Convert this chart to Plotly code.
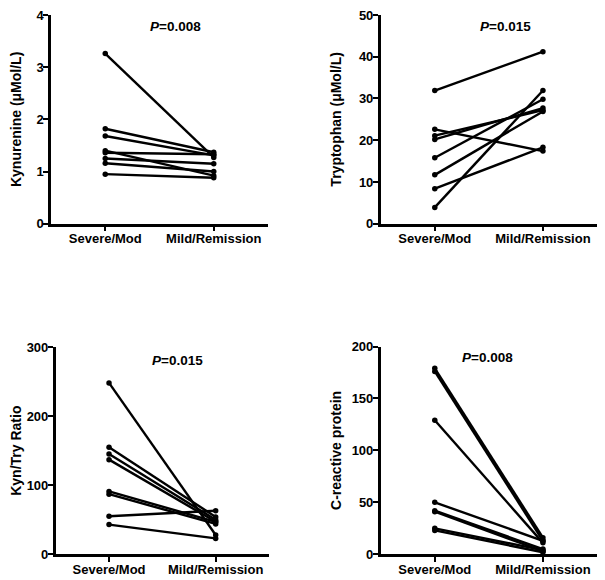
import plotly.graph_objects as go

categories = ["Severe/Mod", "Mild/Remission"]

kyn_severe = [3.26, 1.82, 1.68, 1.40, 1.36, 1.25, 1.16, 0.95]
kyn_mild = [1.27, 1.37, 1.31, 0.92, 1.33, 1.15, 1.00, 0.88]

try_severe = [31.9, 3.9, 22.6, 8.4, 21.1, 20.2, 15.8, 11.7]
try_mild = [41.2, 31.9, 17.4, 18.3, 27.2, 27.7, 29.8, 26.9]

ratio_severe = [248, 155, 145, 137, 91, 87, 55, 43]
ratio_mild = [28, 54, 50, 47, 47, 44, 63, 23]

crp_severe = [179, 176, 129, 50, 42, 41, 25, 23]
crp_mild = [16, 13, 11, 13, 5, 3, 4, 2]

W, H, OFF = 605, 580, 8


def xdom(a, b):
    return [(a - OFF) / W, (b - OFF) / W]


def ydom(bottom, top):
    return [(H + OFF - bottom) / H, (H + OFF - top) / H]


panels = [
    dict(sev=kyn_severe, mild=kyn_mild, title="Kynurenine (μMol/L)", yrange=[0, 4], dtick=1,
         p="0.008", px=0.65, py=3.77, xd=xdom(51, 268), yd=ydom(223.7, 15)),
    dict(sev=try_severe, mild=try_mild, title="Tryptophan (μMol/L)", yrange=[0, 50], dtick=10,
         p="0.015", px=0.65, py=47.2, xd=xdom(380.7, 597), yd=ydom(223.7, 15)),
    dict(sev=ratio_severe, mild=ratio_mild, title="Kyn/Try Ratio", yrange=[0, 300], dtick=100,
         p="0.015", px=0.64, py=281, xd=xdom(55.7, 269), yd=ydom(554.3, 347)),
    dict(sev=crp_severe, mild=crp_mild, title="C-reactive protein", yrange=[0, 200], dtick=50,
         p="0.008", px=0.49, py=189, xd=xdom(380.7, 597), yd=ydom(554.3, 346.5)),
]

FONT = "Liberation Sans, Arial, sans-serif"
fig = go.Figure()
annotations = []
for i, pnl in enumerate(panels, start=1):
    xa = "x" if i == 1 else f"x{i}"
    ya = "y" if i == 1 else f"y{i}"
    for s, m in zip(pnl["sev"], pnl["mild"]):
        fig.add_trace(go.Scatter(
            x=[0, 1], y=[s, m], xaxis=xa, yaxis=ya, mode="lines+markers",
            line=dict(color="black", width=2.4), marker=dict(color="black", size=5.5),
            showlegend=False, hoverinfo="skip", cliponaxis=False))
    xkey = "xaxis" if i == 1 else f"xaxis{i}"
    ykey = "yaxis" if i == 1 else f"yaxis{i}"
    fig.layout[xkey] = dict(
        domain=pnl["xd"], anchor=ya, range=[-0.5, 1.5], tickvals=[0, 1], ticktext=categories,
        showline=True, linecolor="black", linewidth=2.5, ticks="outside", ticklen=5,
        tickwidth=1.5, tickcolor="black", showgrid=False, zeroline=False, ticklabelstandoff=-4,
        automargin=False, ticklabeloverflow="allow",
        tickfont=dict(family=FONT, size=13, color="black", weight="bold"), fixedrange=True)
    fig.layout[ykey] = dict(
        domain=pnl["yd"], anchor=xa, range=pnl["yrange"], dtick=pnl["dtick"], tick0=0,
        showline=True, linecolor="black", linewidth=2.5, ticks="outside", ticklen=5,
        tickwidth=1.5, tickcolor="black", showgrid=False, zeroline=False, ticklabelstandoff=-3,
        automargin=False, ticklabeloverflow="allow",
        tickfont=dict(family=FONT, size=13, color="black", weight="bold"),
        title=dict(text=pnl["title"], font=dict(family=FONT, size=14, color="black", weight="bold")),
        fixedrange=True)
    annotations.append(dict(
        x=pnl["px"], y=pnl["py"], xref=xa, yref=ya, showarrow=False,
        text=f"<i>P</i>={pnl['p']}",
        font=dict(family=FONT, size=13.5, color="black", weight="bold")))

fig.update_layout(
    template="none",
    width=W, height=H, margin=dict(l=0, r=0, t=0, b=0, autoexpand=False),
    paper_bgcolor="white", plot_bgcolor="white", annotations=annotations)

fig.write_html("out.html")
